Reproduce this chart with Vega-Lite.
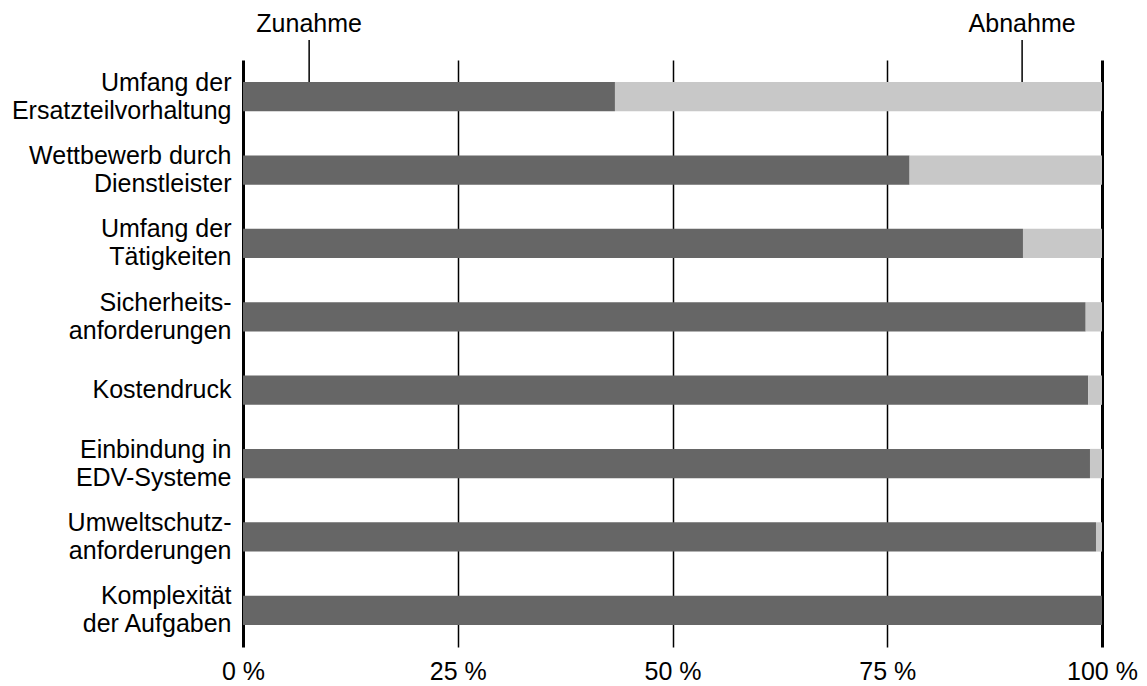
{
  "$schema": "https://vega.github.io/schema/vega-lite/v6.json",
  "width": 859,
  "height": 587,
  "autosize": {"type": "none"},
  "padding": {"left": 243, "top": 60, "right": 45, "bottom": 39},
  "background": "white",
  "config": {
    "view": {"stroke": null},
    "font": "Liberation Sans",
    "text": {"font": "Liberation Sans"}
  },
  "datasets": {
    "anteile": [
      {"Faktor": "Umfang der |Ersatzteilvorhaltung", "Richtung": "Zunahme", "Anteil": 43.3},
      {"Faktor": "Umfang der |Ersatzteilvorhaltung", "Richtung": "Abnahme", "Anteil": 56.7},
      {"Faktor": "Wettbewerb durch|Dienstleister", "Richtung": "Zunahme", "Anteil": 77.6},
      {"Faktor": "Wettbewerb durch|Dienstleister", "Richtung": "Abnahme", "Anteil": 22.4},
      {"Faktor": "Umfang der|Tätigkeiten", "Richtung": "Zunahme", "Anteil": 90.8},
      {"Faktor": "Umfang der|Tätigkeiten", "Richtung": "Abnahme", "Anteil": 9.2},
      {"Faktor": "Sicherheits-|anforderungen", "Richtung": "Zunahme", "Anteil": 98.1},
      {"Faktor": "Sicherheits-|anforderungen", "Richtung": "Abnahme", "Anteil": 1.9},
      {"Faktor": "Kostendruck", "Richtung": "Zunahme", "Anteil": 98.4},
      {"Faktor": "Kostendruck", "Richtung": "Abnahme", "Anteil": 1.6},
      {"Faktor": "Einbindung in|EDV-Systeme", "Richtung": "Zunahme", "Anteil": 98.6},
      {"Faktor": "Einbindung in|EDV-Systeme", "Richtung": "Abnahme", "Anteil": 1.4},
      {"Faktor": "Umweltschutz-|anforderungen", "Richtung": "Zunahme", "Anteil": 99.3},
      {"Faktor": "Umweltschutz-|anforderungen", "Richtung": "Abnahme", "Anteil": 0.7},
      {"Faktor": "Komplexität|der Aufgaben", "Richtung": "Zunahme", "Anteil": 100},
      {"Faktor": "Komplexität|der Aufgaben", "Richtung": "Abnahme", "Anteil": 0}
    ],
    "legende": [
      {"Richtung": "Zunahme", "x": 7.7},
      {"Richtung": "Abnahme", "x": 90.7}
    ]
  },
  "layer": [
    {
      "data": {"name": "anteile"},
      "mark": {"type": "bar"},
      "encoding": {
        "y": {
          "field": "Faktor",
          "type": "nominal",
          "sort": null,
          "scale": {"paddingInner": 0.6, "paddingOuter": 0.3},
          "axis": {
            "title": null,
            "domain": false,
            "ticks": false,
            "labelExpr": "split(datum.label, '|')",
            "labelFont": "Liberation Sans",
            "labelFontSize": 25,
            "labelColor": "black",
            "labelLineHeight": 28,
            "labelPadding": 12,
            "labelLimit": 400,
            "labelOffset": {"condition": {"test": "indexof(datum.value, '|') >= 0", "value": -14}, "value": 0}
          }
        },
        "x": {
          "field": "Anteil",
          "type": "quantitative",
          "stack": "zero",
          "scale": {"domain": [0, 100], "nice": false},
          "axis": {
            "title": null,
            "values": [0, 25, 50, 75, 100],
            "labelExpr": "datum.value + ' %'",
            "labelFont": "Liberation Sans",
            "labelFontSize": 25,
            "labelColor": "black",
            "labelPadding": 12,
            "labelFlush": false,
            "domain": false,
            "ticks": false,
            "grid": true,
            "gridColor": "black",
            "gridOpacity": 1,
            "gridWidth": {"condition": {"test": "datum.value == 0 || datum.value == 100", "value": 3}, "value": 1.5}
          }
        },
        "color": {
          "field": "Richtung",
          "type": "nominal",
          "scale": {"domain": ["Zunahme", "Abnahme"], "range": ["#666666", "#c8c8c8"]},
          "legend": null
        },
        "order": {"field": "Richtung", "sort": "descending"}
      }
    },
    {
      "data": {"name": "legende"},
      "mark": {"type": "rule", "color": "black", "strokeWidth": 1.5, "clip": false},
      "encoding": {
        "x": {"field": "x", "type": "quantitative"},
        "y": {"value": -20},
        "y2": {"value": 22}
      }
    },
    {
      "data": {"name": "legende"},
      "mark": {"type": "text", "font": "Liberation Sans", "fontSize": 25, "color": "black", "baseline": "alphabetic", "align": "center", "clip": false},
      "encoding": {
        "x": {"field": "x", "type": "quantitative"},
        "y": {"value": -28},
        "text": {"field": "Richtung"}
      }
    }
  ]
}
